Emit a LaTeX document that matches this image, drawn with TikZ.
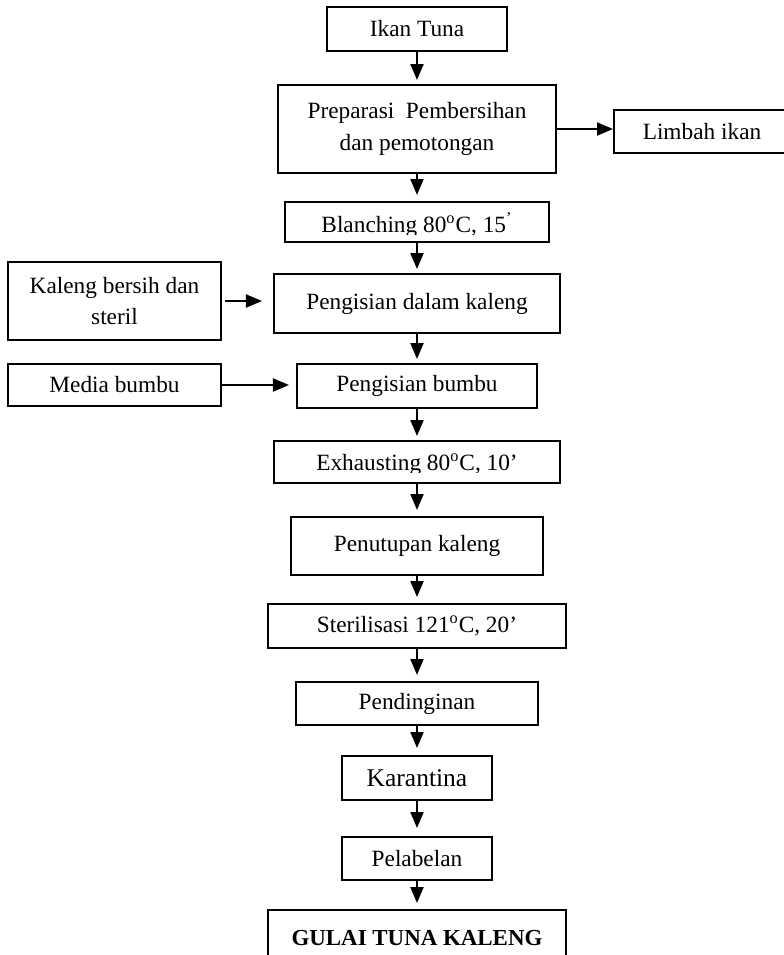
\documentclass[tikz,border=0pt]{standalone}
\usepackage{fontspec}
\setmainfont{Liberation Serif}
\usetikzlibrary{arrows.meta}

\tikzset{
	box/.style={draw, line width=1bp, align=center, inner sep=0pt, font=\fontsize{11.7}{16}\selectfont},
	arr/.style={-{Triangle[width=6.5bp,length=8bp]}, line width=1bp},
}

\begin{document}
\begin{tikzpicture}[x=0.5bp,y=-0.5bp]
	\useasboundingbox (0,0) rectangle (784,955);
%	main line
	\node [box, minimum width=89.5bp, minimum height=22bp] (ikan) at (417,29) {Ikan Tuna};
	\node [box, minimum width=138.5bp, minimum height=44bp] (prep) at (417,129) {Preparasi \ Pembersihan\\dan pemotongan};
	\node [box, minimum width=88bp, minimum height=21.5bp] (limbah) at (702,131.5) {Limbah ikan};
	\node [box, minimum width=132bp, minimum height=20bp,
		path picture={
			\clip ([yshift=4bp]path picture bounding box.south west) rectangle (path picture bounding box.north east);
			\node [anchor=base, font=\fontsize{11.7}{16}\selectfont] at ([yshift=5bp]path picture bounding box.south) {Blanching 80\textsuperscript{o}C, 15\textsuperscript{’}};}] (blanch) at (417,222) {};
	\node [box, minimum width=143bp, minimum height=29.5bp] (kaleng) at (417,303.5) {Pengisian dalam kaleng};
	\node [box, minimum width=106.5bp, minimum height=39bp] (bersih) at (114.5,301) {Kaleng bersih dan\\steril};
	\node [box, minimum width=120bp, minimum height=22bp] (bumbu) at (417,386) {Pengisian bumbu};
	\node [box, minimum width=106.5bp, minimum height=21bp] (media) at (114.5,385) {Media bumbu};
	\node [box, minimum width=142.5bp, minimum height=21bp,
		path picture={
			\clip ([yshift=5.5bp]path picture bounding box.south west) rectangle (path picture bounding box.north east);
			\node [anchor=base, font=\fontsize{11.7}{16}\selectfont] at ([yshift=6.5bp]path picture bounding box.south) {Exhausting 80\textsuperscript{o}C, 10’};}] (exhaust) at (417,462) {};
	\node [box, minimum width=126bp, minimum height=29bp] (tutup) at (417,546) {Penutupan kaleng};
	\node [box, minimum width=149bp, minimum height=22bp] (steril) at (417,626) {Sterilisasi 121\textsuperscript{o}C, 20’};
	\node [box, minimum width=121bp, minimum height=21.5bp] (dingin) at (417,703.5) {Pendinginan};
	\node [box, minimum width=75bp, minimum height=22bp, font=\fontsize{12.8}{16}\selectfont] (karantina) at (417,778) {Karantina};
	\node [box, minimum width=75bp, minimum height=21.5bp] (label) at (417,858.5) {Pelabelan};
	\node [box, minimum width=149bp, minimum height=28bp, font=\fontsize{11.5}{16}\selectfont\bfseries] (gulai) at (417,938) {GULAI TUNA KALENG};
%	arrows
	\draw [arr, shorten >=2bp] (ikan.south) -- (prep.north);
	\draw [arr] (prep.east) -- (prep.east -| limbah.west);
	\draw [arr, shorten >=3bp] (prep.south) -- (blanch.north);
	\draw [arr, shorten >=2bp] (blanch.south) -- (kaleng.north);
	\draw [arr, shorten <=1.5bp, shorten >=5.5bp] (bersih.east) -- (bersih.east -| kaleng.west);
	\draw [arr, shorten >=2bp] (kaleng.south) -- (bumbu.north);
	\draw [arr, shorten >=3.5bp] (media.east) -- (media.east -| bumbu.west);
	\draw [arr, shorten >=2bp] (bumbu.south) -- (exhaust.north);
	\draw [arr, shorten >=3bp] (exhaust.south) -- (tutup.north);
	\draw [arr, shorten >=3bp] (tutup.south) -- (steril.north);
	\draw [arr, shorten >=3bp] (steril.south) -- (dingin.north);
	\draw [arr, shorten >=3.5bp] (dingin.south) -- (karantina.north);
	\draw [arr, shorten >=4bp] (karantina.south) -- (label.north);
	\draw [arr, shorten >=3bp] (label.south) -- (gulai.north);
\end{tikzpicture}
\end{document}
